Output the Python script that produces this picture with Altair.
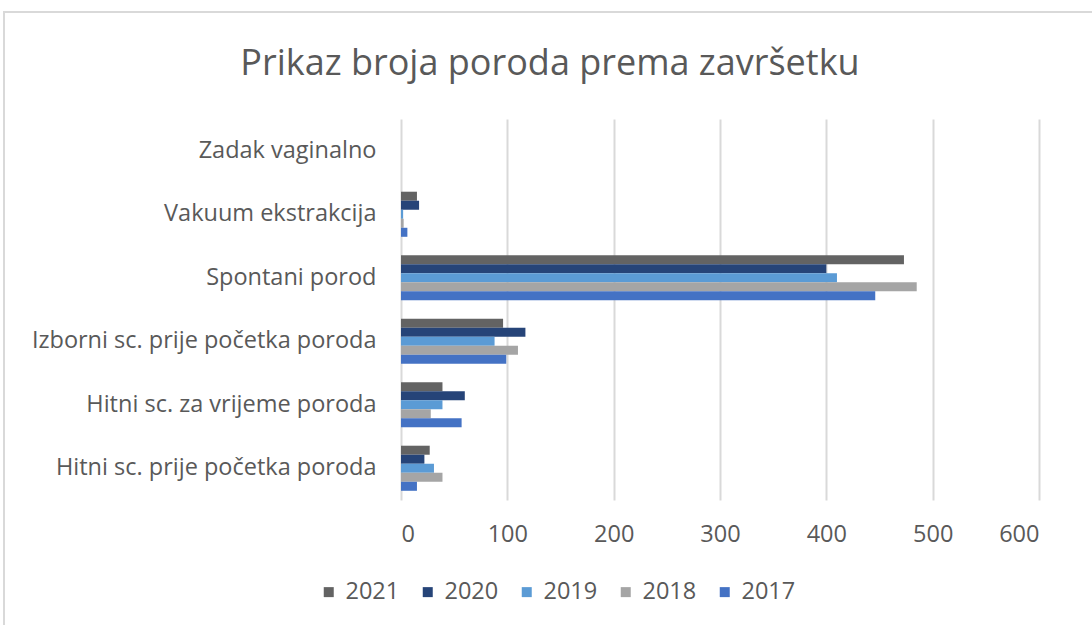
import altair as alt
import pandas as pd

categories = [
    "Zadak vaginalno",
    "Vakuum ekstrakcija",
    "Spontani porod",
    "Izborni sc. prije početka poroda",
    "Hitni sc. za vrijeme poroda",
    "Hitni sc. prije početka poroda",
]
years = ["2021", "2020", "2019", "2018", "2017"]
colors = ["#636363", "#264478", "#5B9BD5", "#A5A5A5", "#4472C4"]

v2021 = [0, 15, 473, 96, 39, 27]
v2020 = [0, 17, 400, 117, 60, 22]
v2019 = [0, 2, 410, 88, 39, 31]
v2018 = [0, 2.5, 485, 110, 28, 39]
v2017 = [0, 6, 446, 99, 57, 15]

series = {"2021": v2021, "2020": v2020, "2019": v2019, "2018": v2018, "2017": v2017}
rows = []
for y, vals in series.items():
    for c, v in zip(categories, vals):
        rows.append({"kategorija": c, "godina": y, "broj": v})
df = pd.DataFrame(rows)

FONT = "Open Sans"
GREY = "#595959"
FS = 23.5

bars = alt.Chart(df).mark_bar().encode(
    x=alt.X("broj:Q",
            scale=alt.Scale(domain=[0, 600], nice=False),
            axis=alt.Axis(values=[0, 100, 200, 300, 400, 500, 600], title=None,
                          domain=False, ticks=False, labelPadding=22,
                          labelFontSize=FS, labelColor=GREY, labelFont=FONT,
                          gridColor="#D9D9D9", gridWidth=2)),
    y=alt.Y("kategorija:N", sort=categories,
            scale=alt.Scale(paddingInner=0.29, paddingOuter=0.145),
            axis=alt.Axis(title=None, domain=False, ticks=False, grid=False,
                          labelPadding=25, labelFontSize=FS, labelColor=GREY,
                          labelFont=FONT, labelLimit=400)),
    yOffset=alt.YOffset("godina:N", sort=years),
    color=alt.Color("godina:N", sort=years,
                    scale=alt.Scale(domain=years, range=colors),
                    legend=alt.Legend(title=None, orient="none", direction="horizontal",
                                      legendX=-84, legendY=461,
                                      symbolType="square", symbolSize=100,
                                      symbolStrokeWidth=0, labelOffset=5,
                                      labelFontSize=FS, labelColor=GREY, labelFont=FONT,
                                      columnPadding=16)),
)

frame = alt.Chart(df).mark_rect(fill=None, stroke="#D9D9D9", strokeWidth=2).encode(
    x=alt.value(-397), x2=alt.value(700), y=alt.value(-107), y2=alt.value(520)
)

chart = alt.layer(frame, bars).properties(
    width=638,
    height=381,
    padding={"left": 401, "top": 119, "right": 53, "bottom": 125},
    autosize=alt.AutoSizeParams(type="none"),
    title=alt.Title("Prikaz broja poroda prema završetku", fontSize=36,
                    font=FONT, fontWeight="normal", color=GREY,
                    anchor="middle", frame="group", dx=-170, offset=0, dy=72),
).configure_view(stroke=None)

chart.save("out.html", embed_options={"renderer": "svg", "actions": False})
